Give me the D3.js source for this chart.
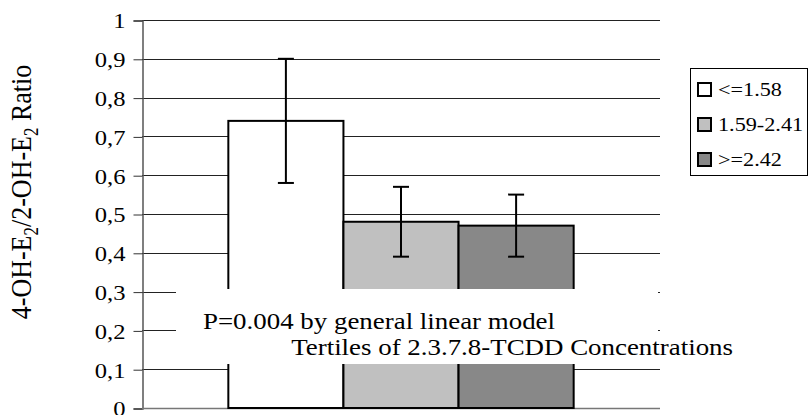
<!DOCTYPE html>
<html>
<head>
<meta charset="utf-8">
<script src="https://cdn.jsdelivr.net/npm/d3@7"></script>
<style>
  body { margin: 0; background: #fff; }
  svg text { font-family: "Liberation Serif", "Times New Roman", serif; fill: #000; }
</style>
</head>
<body>
<svg id="chart"></svg>
<script>
// data
let tertiles = ["<=1.58", "1.59-2.41", ">=2.42"]
let ratios = [0.74, 0.48, 0.47]
let errLow = [0.58, 0.39, 0.39]
let errHigh = [0.90, 0.57, 0.55]
let colors = ["#ffffff", "#c0c0c0", "#888888"]
let yTicks = [0, 0.1, 0.2, 0.3, 0.4, 0.5, 0.6, 0.7, 0.8, 0.9, 1]

let w = 809
let h = 415
let mLeft = 142, mRight = 660, mTop = 20, mBottom = 408
let sx = 1.17  // the source picture is a bit wider than tall, text looks stretched

let svg = d3.select("#chart")
    .attr("width", w)
    .attr("height", h)

let y = d3.scaleLinear().domain([0, 1]).range([mBottom, mTop])
let xGroup = d3.scaleBand().domain(["all"]).range([mLeft, mRight]).paddingOuter(0.25).paddingInner(0)
let x = d3.scaleBand().domain(tertiles).range([xGroup("all"), xGroup("all") + xGroup.bandwidth()])

// gridlines
svg.append("g")
    .selectAll("line")
    .data(yTicks.filter(d => d > 0))
    .join("line")
    .attr("x1", mLeft)
    .attr("x2", mRight)
    .attr("y1", d => Math.round(y(d)) + 0.5)
    .attr("y2", d => Math.round(y(d)) + 0.5)
    .attr("stroke", "#222")
    .attr("stroke-width", 1)

// y axis
let yAxis = d3.axisLeft(y)
    .tickValues(yTicks)
    .tickSize(9)
    .tickFormat(d => (d == 1 || d == 0) ? String(d) : d3.format(".1f")(d).replace(".", ","))

let ag = svg.append("g")
    .attr("transform", `translate(${mLeft + 0.5},0.5)`)
    .call(yAxis)
    .attr("font-family", null)
    .attr("font-size", 21)
ag.select(".domain").attr("stroke", "#555").attr("stroke-width", 1.5)
ag.selectAll(".tick line").attr("stroke", "#333")
ag.selectAll(".tick text")
    .attr("fill", "#000")
    .attr("x", 0)
    .attr("dy", "0.35em")
    .attr("transform", `translate(-17,0) scale(${sx},1)`)

// baseline
svg.append("line")
    .attr("x1", mLeft).attr("x2", mRight)
    .attr("y1", mBottom + 0.5).attr("y2", mBottom + 0.5)
    .attr("stroke", "#777").attr("stroke-width", 1.5)

// bars
svg.append("g")
    .selectAll("rect")
    .data(tertiles)
    .join("rect")
    .attr("x", d => x(d))
    .attr("y", (d, i) => y(ratios[i]))
    .attr("width", x.bandwidth())
    .attr("height", (d, i) => y(0) - y(ratios[i]))
    .attr("fill", (d, i) => colors[i])
    .attr("stroke", "#000")
    .attr("stroke-width", 2)

// error bars
let eg = svg.append("g")
    .selectAll("g")
    .data(tertiles)
    .join("g")
eg.append("line")
    .attr("x1", d => x(d) + x.bandwidth() / 2)
    .attr("x2", d => x(d) + x.bandwidth() / 2)
    .attr("y1", (d, i) => y(errLow[i]))
    .attr("y2", (d, i) => y(errHigh[i]))
    .attr("stroke", "#000").attr("stroke-width", 2)
eg.selectAll("line.cap")
    .data((d, i) => [[d, errLow[i]], [d, errHigh[i]]])
    .join("line")
    .attr("class", "cap")
    .attr("x1", d => x(d[0]) + x.bandwidth() / 2 - 8)
    .attr("x2", d => x(d[0]) + x.bandwidth() / 2 + 8)
    .attr("y1", d => y(d[1]))
    .attr("y2", d => y(d[1]))
    .attr("stroke", "#000").attr("stroke-width", 2)

// white box over the lower part with the notes
svg.append("rect")
    .attr("x", 176)
    .attr("y", 289)
    .attr("width", 482)
    .attr("height", 75)
    .attr("fill", "#fff")

svg.append("text")
    .attr("transform", `translate(203,329) scale(${sx},1)`)
    .attr("font-size", 23)
    .text("P=0.004 by general linear model")

svg.append("text")
    .attr("transform", `translate(733,355) scale(${sx},1)`)
    .attr("text-anchor", "end")
    .attr("font-size", 23)
    .text("Tertiles of 2.3.7.8-TCDD Concentrations")

// y label
let lab = svg.append("text")
    .attr("transform", `translate(31,192) rotate(-90) scale(1,${sx})`)
    .attr("text-anchor", "middle")
    .attr("font-size", 26)
lab.append("tspan").text("4-OH-E")
lab.append("tspan").attr("font-size", 17).attr("dy", 6).text("2")
lab.append("tspan").attr("dy", -6).text("/2-OH-E")
lab.append("tspan").attr("font-size", 17).attr("dy", 6).text("2")
lab.append("tspan").attr("dy", -6).text(" Ratio")

// legend
svg.append("rect")
    .attr("x", 690.5).attr("y", 68.5)
    .attr("width", 117).attr("height", 107)
    .attr("fill", "#fff")
    .attr("stroke", "#000")
    .attr("stroke-width", 1)
let li = svg.append("g")
    .selectAll("g")
    .data(tertiles)
    .join("g")
    .attr("transform", (d, i) => `translate(698,${89 + i * 35})`)
li.append("rect")
    .attr("x", 0).attr("y", -6)
    .attr("width", 13).attr("height", 13)
    .attr("fill", (d, i) => colors[i])
    .attr("stroke", "#000")
    .attr("stroke-width", 2)
li.append("text")
    .attr("transform", `translate(20,7) scale(${sx},1)`)
    .attr("font-size", 19)
    .text(d => d)
</script>
</body>
</html>
